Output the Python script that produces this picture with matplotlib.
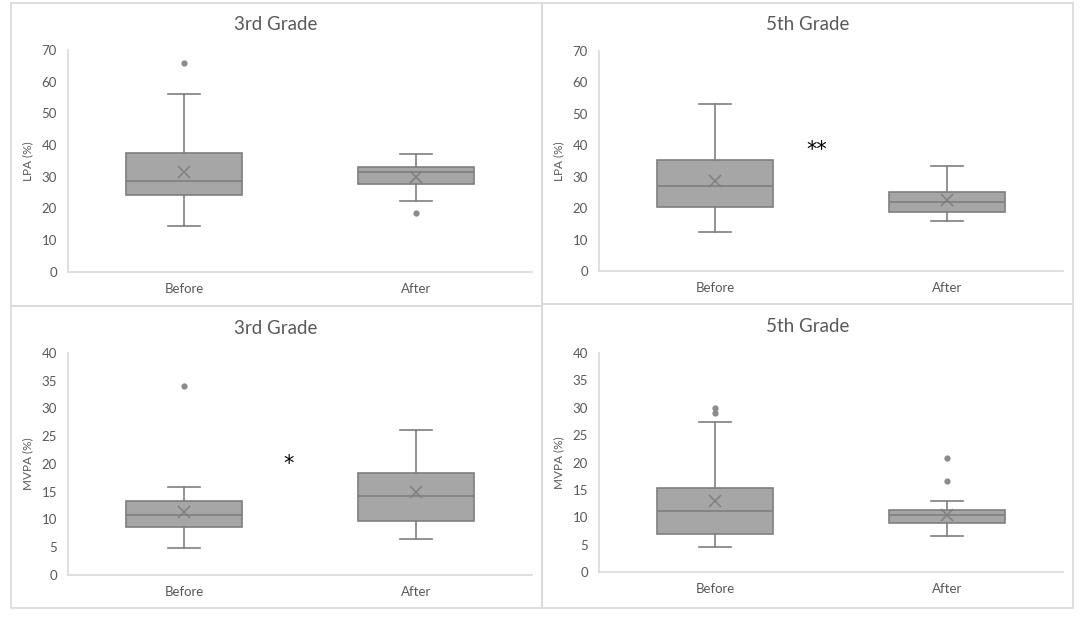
# Box plots of LPA and MVPA before/after, 3rd and 5th grade
import matplotlib.pyplot as plt
from matplotlib.patches import Rectangle

plt.rcParams['font.family'] = ['Lato', 'DejaVu Sans']

groups = ['Before', 'After']

# summary stats: whislo, q1, med, q3, whishi, mean, fliers
lpa_3rd = [
    dict(whislo=14.4, q1=24.3, med=28.5, q3=37.3, whishi=56.0, mean=31.6, fliers=[65.9]),
    dict(whislo=22.2, q1=27.5, med=31.4, q3=33.1, whishi=37.0, mean=29.9, fliers=[18.6]),
]
lpa_5th = [
    dict(whislo=12.3, q1=20.5, med=27.1, q3=35.3, whishi=53.1, mean=28.5, fliers=[]),
    dict(whislo=15.9, q1=18.7, med=21.9, q3=25.0, whishi=33.3, mean=22.5, fliers=[]),
]
mvpa_3rd = [
    dict(whislo=4.9, q1=8.7, med=10.8, q3=13.4, whishi=15.8, mean=11.3, fliers=[34.0]),
    dict(whislo=6.5, q1=9.7, med=14.3, q3=18.3, whishi=26.2, mean=15.0, fliers=[]),
]
mvpa_5th = [
    dict(whislo=4.6, q1=6.9, med=11.1, q3=15.4, whishi=27.4, mean=12.9, fliers=[29.1, 29.9]),
    dict(whislo=6.5, q1=8.9, med=10.4, q3=11.4, whishi=13.0, mean=10.5, fliers=[16.6, 20.9]),
]

titles = ['3rd Grade', '5th Grade', '3rd Grade', '5th Grade']
ylabels = ['LPA (%)', 'LPA (%)', 'MVPA (%)', 'MVPA (%)']
ymax = [70, 70, 40, 40]
ystep = [10, 10, 5, 5]
# significance marks: (panel, text, x, y)
stars = [(1, '**', 0.44, 38.5), (2, '*', 0.45, 20.0)]

W, H = 1084, 620
fig = plt.figure(figsize=(W / 100, H / 100), dpi=100)

# pixel layouts (left, top, right, bottom)
ax_px = [(68, 50, 532, 271.5), (599, 51, 1063, 271), (68, 353, 532, 575), (599, 353, 1063, 572)]
frame_px = [(11, 3, 542, 306), (542, 3, 1073, 304), (11, 306, 542, 608), (542, 304, 1073, 608)]
title_px = [(276, 24), (808, 25), (276, 328), (808, 326)]

box_fill = '#a6a6a6'
edge = '#7f7f7f'
axis_col = '#d9d9d9'
text_col = '#595959'

for fx0, fy0, fx1, fy1 in frame_px:
    fig.patches.append(Rectangle((fx0 / W, 1 - fy1 / H), (fx1 - fx0) / W, (fy1 - fy0) / H,
                                 transform=fig.transFigure, fill=False,
                                 edgecolor=axis_col, linewidth=1.2))

data = [lpa_3rd, lpa_5th, mvpa_3rd, mvpa_5th]
for i, stats in enumerate(data):
    x0, y0, x1, y1 = ax_px[i]
    ax = fig.add_axes([x0 / W, 1 - y1 / H, (x1 - x0) / W, (y1 - y0) / H])
    ax.bxp(stats, positions=[0, 1], widths=0.5, capwidths=0.14,
           patch_artist=True, showmeans=True,
           boxprops=dict(facecolor=box_fill, edgecolor=edge, linewidth=1.2),
           medianprops=dict(color=edge, linewidth=1.2),
           whiskerprops=dict(color=edge, linewidth=1.2),
           capprops=dict(color=edge, linewidth=1.2),
           meanprops=dict(marker='x', markeredgecolor=edge, markersize=8, markeredgewidth=1.1),
           flierprops=dict(marker='o', markerfacecolor='#8c8c8c', markeredgecolor='#8c8c8c',
                           markersize=3.5))
    ax.set_xlim(-0.5, 1.5)
    ax.set_ylim(0, ymax[i])
    ax.set_yticks(range(0, ymax[i] + 1, ystep[i]))
    ax.set_xticks([0, 1])
    ax.set_xticklabels(groups)
    ax.tick_params(axis='both', length=0, labelsize=9.5, colors=text_col)
    ax.tick_params(axis='y', pad=8)
    ax.tick_params(axis='x', pad=8)
    for s in ['top', 'right']:
        ax.spines[s].set_visible(False)
    for s in ['left', 'bottom']:
        ax.spines[s].set_color(axis_col)
        ax.spines[s].set_linewidth(1.2)
    ax.set_ylabel(ylabels[i], fontsize=8.5, color=text_col, labelpad=6)
    tx, ty = title_px[i]
    fig.text(tx / W, 1 - ty / H, titles[i], ha='center', va='center',
             fontsize=13.5, color=text_col)

    for p, s, sx, sy in stars:
        if p == i:
            ax.text(sx, sy, s, ha='center', va='center', fontsize=15,
                    color='black', family='DejaVu Sans')

fig.savefig('out.png', dpi=100, facecolor='white')
